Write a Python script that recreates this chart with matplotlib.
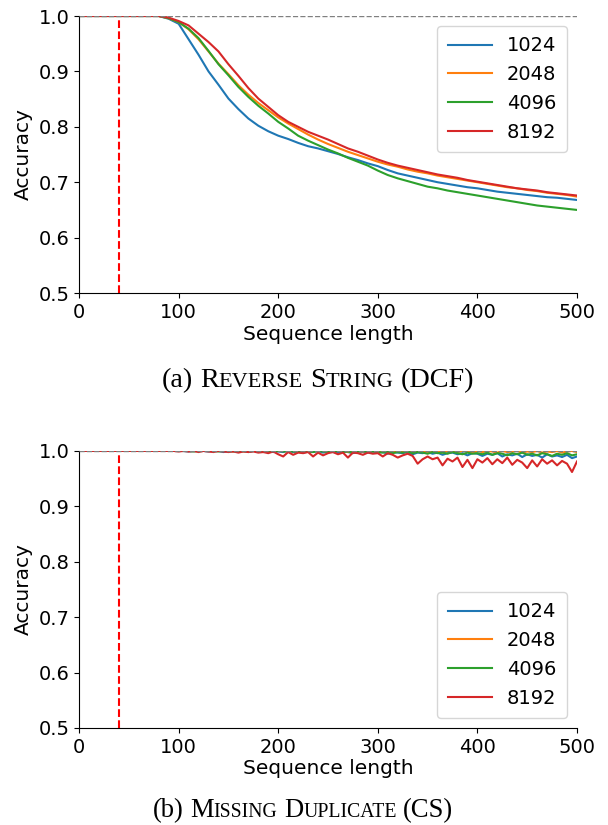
import numpy as np
import matplotlib
matplotlib.use('Agg')
import matplotlib.pyplot as plt

plt.rcParams['font.family'] = ['DejaVu Sans']

SERIES = ['1024', '2048', '4096', '8192']
COLORS = ['#1f77b4', '#ff7f0e', '#2ca02c', '#d62728']

# (a) Reverse String, sequence length 0..500 step 10
x_top = np.arange(0, 501, 10)
top_1024 = [1.0, 1.0, 1.0, 1.0, 1.0, 1.0, 1.0, 1.0, 1.0,
            0.995, 0.986, 0.958, 0.930, 0.900, 0.876, 0.851, 0.832, 0.815, 0.802,
            0.792, 0.784, 0.778, 0.771, 0.765, 0.761, 0.756, 0.751, 0.745, 0.740,
            0.734, 0.729, 0.722, 0.716, 0.712, 0.708, 0.704, 0.700, 0.697, 0.694,
            0.691, 0.689, 0.686, 0.683, 0.681, 0.679, 0.677, 0.675, 0.673, 0.672,
            0.670, 0.668]
top_2048 = [1.0, 1.0, 1.0, 1.0, 1.0, 1.0, 1.0, 1.0, 1.0,
            0.996, 0.989, 0.976, 0.958, 0.936, 0.914, 0.895, 0.875, 0.858, 0.843,
            0.830, 0.817, 0.806, 0.796, 0.786, 0.777, 0.769, 0.762, 0.755, 0.749,
            0.743, 0.737, 0.732, 0.728, 0.723, 0.719, 0.716, 0.712, 0.709, 0.706,
            0.703, 0.700, 0.697, 0.694, 0.691, 0.689, 0.686, 0.684, 0.681, 0.679,
            0.677, 0.674]
top_4096 = [1.0, 1.0, 1.0, 1.0, 1.0, 1.0, 1.0, 1.0, 1.0,
            0.996, 0.989, 0.977, 0.960, 0.937, 0.913, 0.893, 0.872, 0.854, 0.838,
            0.824, 0.809, 0.797, 0.784, 0.775, 0.767, 0.759, 0.752, 0.744, 0.737,
            0.730, 0.721, 0.713, 0.707, 0.702, 0.697, 0.692, 0.689, 0.685, 0.682,
            0.679, 0.676, 0.673, 0.670, 0.667, 0.664, 0.661, 0.658, 0.656, 0.654,
            0.652, 0.650]
top_8192 = [1.0, 1.0, 1.0, 1.0, 1.0, 1.0, 1.0, 1.0, 1.0,
            0.997, 0.991, 0.983, 0.968, 0.953, 0.936, 0.913, 0.892, 0.870, 0.851,
            0.836, 0.821, 0.809, 0.800, 0.791, 0.784, 0.777, 0.769, 0.761, 0.755,
            0.748, 0.741, 0.735, 0.730, 0.726, 0.722, 0.718, 0.714, 0.711, 0.708,
            0.704, 0.701, 0.698, 0.695, 0.692, 0.689, 0.687, 0.685, 0.682, 0.680,
            0.678, 0.676]

# (b) Missing Duplicate, sequence length 0..500 step 5
x_bot = np.arange(0, 501, 5)
bot_1024 = [1.0, 1.0, 1.0, 1.0, 1.0, 1.0, 1.0, 1.0, 1.0, 1.0,
            1.0, 1.0, 1.0, 1.0, 1.0, 1.0, 1.0, 1.0, 1.0, 1.0,
            1.0, 1.0, 0.999, 1.0, 1.0, 1.0, 0.999, 1.0, 1.0, 0.998,
            1.0, 1.0, 0.999, 1.0, 0.998, 1.0, 1.0, 0.999, 1.0, 0.998,
            0.999, 0.998, 1.0, 0.998, 0.999, 0.997, 0.999, 0.998, 1.0, 0.997,
            0.999, 0.998, 0.997, 0.999, 0.998, 0.996, 0.999, 0.998, 0.997, 0.999,
            0.997, 0.998, 0.995, 0.998, 0.997, 0.996, 0.998, 0.994, 0.997, 0.996,
            0.998, 0.995, 0.997, 0.993, 0.996, 0.997, 0.994, 0.996, 0.992, 0.996,
            0.995, 0.991, 0.995, 0.993, 0.996, 0.990, 0.994, 0.992, 0.995, 0.989,
            0.994, 0.991, 0.993, 0.988, 0.994, 0.990, 0.992, 0.989, 0.993, 0.987,
            0.990]
bot_2048 = [1.0, 1.0, 1.0, 1.0, 1.0, 1.0, 1.0, 1.0, 1.0, 1.0,
            1.0, 1.0, 1.0, 1.0, 1.0, 1.0, 1.0, 1.0, 1.0, 1.0,
            1.0, 1.0, 1.0, 1.0, 1.0, 1.0, 1.0, 1.0, 1.0, 1.0,
            1.0, 1.0, 1.0, 0.999, 1.0, 1.0, 1.0, 1.0, 0.999, 1.0,
            1.0, 1.0, 0.999, 1.0, 1.0, 1.0, 0.999, 1.0, 1.0, 1.0,
            1.0, 0.999, 1.0, 1.0, 0.998, 1.0, 1.0, 0.999, 1.0, 1.0,
            1.0, 0.999, 1.0, 0.998, 1.0, 0.999, 1.0, 0.998, 0.999, 1.0,
            0.998, 1.0, 0.999, 0.997, 1.0, 0.999, 0.998, 1.0, 0.999, 0.997,
            1.0, 0.998, 1.0, 0.999, 0.997, 1.0, 0.998, 0.999, 1.0, 0.997,
            0.999, 0.998, 1.0, 0.997, 0.999, 0.998, 1.0, 0.997, 0.999, 1.0,
            0.998]
bot_4096 = [1.0, 1.0, 1.0, 1.0, 1.0, 1.0, 1.0, 1.0, 1.0, 1.0,
            1.0, 1.0, 1.0, 1.0, 1.0, 1.0, 1.0, 1.0, 1.0, 1.0,
            1.0, 1.0, 1.0, 0.999, 1.0, 1.0, 1.0, 1.0, 0.999, 1.0,
            1.0, 0.999, 1.0, 1.0, 0.999, 1.0, 1.0, 0.998, 1.0, 1.0,
            1.0, 0.999, 1.0, 0.999, 0.998, 1.0, 0.999, 0.998, 1.0, 0.999,
            0.998, 0.999, 1.0, 0.998, 0.999, 0.997, 0.999, 1.0, 0.998, 0.999,
            0.998, 0.997, 0.999, 0.996, 0.998, 0.997, 0.999, 0.996, 0.998, 0.997,
            0.995, 0.998, 0.996, 0.997, 0.995, 0.998, 0.996, 0.994, 0.997, 0.995,
            0.996, 0.994, 0.997, 0.993, 0.996, 0.995, 0.992, 0.996, 0.994, 0.997,
            0.993, 0.995, 0.992, 0.996, 0.994, 0.991, 0.995, 0.993, 0.996, 0.992,
            0.994]
bot_8192 = [1.0, 1.0, 1.0, 1.0, 1.0, 1.0, 1.0, 1.0, 1.0, 1.0,
            1.0, 1.0, 1.0, 1.0, 1.0, 1.0, 1.0, 1.0, 1.0, 1.0,
            0.999, 1.0, 0.999, 1.0, 0.998, 1.0, 0.999, 0.998, 1.0, 0.999,
            0.998, 0.999, 0.997, 0.999, 0.998, 0.999, 0.997, 0.998, 0.996, 0.999,
            0.994, 0.990, 0.998, 0.993, 0.997, 0.996, 0.998, 0.990, 0.997, 0.992,
            0.996, 0.998, 0.994, 0.997, 0.988, 0.997, 0.996, 0.993, 0.997, 0.995,
            0.996, 0.990, 0.996, 0.993, 0.988, 0.992, 0.995, 0.991, 0.977, 0.985,
            0.990, 0.985, 0.988, 0.974, 0.986, 0.981, 0.988, 0.971, 0.984, 0.969,
            0.985, 0.979, 0.987, 0.976, 0.985, 0.978, 0.988, 0.975, 0.984, 0.979,
            0.969, 0.983, 0.972, 0.985, 0.977, 0.983, 0.974, 0.982, 0.977, 0.962,
            0.981]

TRAIN_LEN = 40

CAPTION_A = [('(a)', 'big'), ' ', ('R', 'big'), ('EVERSE', 'small'), ' ',
             ('S', 'big'), ('TRING', 'small'), ' ', ('(DCF)', 'big')]
CAPTION_B = [('(b)', 'big'), ' ', ('M', 'big'), ('ISSING', 'small'), ' ',
             ('D', 'big'), ('UPLICATE', 'small'), ' ', ('(CS)', 'big')]


def draw_panel(ax, x, ys, legend_loc):
    ax.axhline(1.0, color='gray', linestyle='--', linewidth=1.0, zorder=3)
    for y, label, color in zip(ys, SERIES, COLORS):
        ax.plot(x, y, color=color, label=label, linewidth=1.5)
    ax.axvline(TRAIN_LEN, color='red', linestyle='--', linewidth=1.5)
    ax.set_xlim(0, 500)
    ax.set_ylim(0.5, 1.0)
    ax.set_xticks([0, 100, 200, 300, 400, 500])
    ax.set_yticks([0.5, 0.6, 0.7, 0.8, 0.9, 1.0])
    ax.tick_params(labelsize=14)
    ax.spines['top'].set_visible(False)
    ax.spines['right'].set_visible(False)
    ax.set_xlabel('Sequence length', fontsize=14.5, labelpad=2)
    ax.set_ylabel('Accuracy', fontsize=14.5, labelpad=4)
    ax.legend(loc=legend_loc, fontsize=14, handlelength=2.25,
              borderpad=0.55, borderaxespad=0.5)


def small_caps(fig, cx, cy, parts, big=20.3, small=16):
    # lay out caption pieces left to right, centred on cx (pixels)
    renderer = fig.canvas.get_renderer()
    gap = big * 0.25 * fig.dpi / 72
    items, total = [], 0.0
    for p in parts:
        if p == ' ':
            items.append((None, gap))
            total += gap
            continue
        s, kind = p
        t = fig.text(0, 0, s, fontsize=big if kind == 'big' else small,
                     family='Liberation Serif', va='baseline')
        w = t.get_window_extent(renderer).width
        items.append((t, w))
        total += w
    W, H = fig.bbox.width, fig.bbox.height
    xpos = cx - total / 2
    for t, w in items:
        if t is not None:
            t.set_position((xpos / W, 1 - cy / H))
        xpos += w


fig = plt.figure(figsize=(6.08, 8.25), dpi=100)
ax1 = fig.add_axes([0.130, 0.6448, 0.819, 0.3358])
ax2 = fig.add_axes([0.130, 0.1176, 0.819, 0.3358])

draw_panel(ax1, x_top, [top_1024, top_2048, top_4096, top_8192], 'upper right')
draw_panel(ax2, x_bot, [bot_1024, bot_2048, bot_4096, bot_8192], 'lower right')

small_caps(fig, 318, 387, CAPTION_A)
small_caps(fig, 303, 817, CAPTION_B, big=19.2, small=14.2)

fig.savefig('out.png', dpi=100)
